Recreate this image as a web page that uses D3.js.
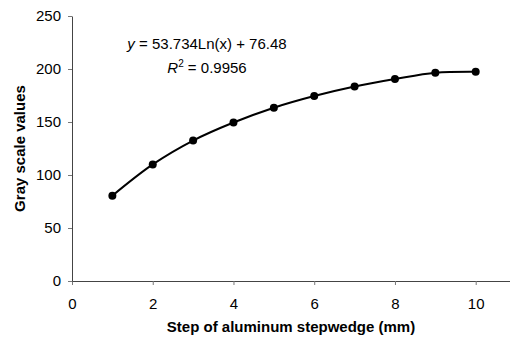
<!DOCTYPE html>
<html>
<head>
<meta charset="utf-8">
<script src="https://cdn.jsdelivr.net/npm/d3@7"></script>
<style>
  body { margin: 0; background: #fff; }
  svg { display: block; font-family: "Liberation Sans", Arial, sans-serif; }
</style>
</head>
<body>
<div id="chart"></div>
<script>
// data
const steps = [1, 2, 3, 4, 5, 6, 7, 8, 9, 10];
const grayValues = [80.5, 110, 132.5, 149.5, 163.5, 174.5, 183.5, 190.5, 196.5, 197.5];
const xTicks = [0, 2, 4, 6, 8, 10];
const yTicks = [0, 50, 100, 150, 200, 250];

const width = 510, height = 343;
const plotLeft = 72, plotTop = 16, plotBottom = 281;

const svg = d3.select("#chart").append("svg")
    .attr("width", width)
    .attr("height", height);

const x = d3.scaleLinear().domain([0, 11]).range([plotLeft, plotLeft + 11 * 40.37]);
const y = d3.scaleLinear().domain([0, 250]).range([plotBottom, plotTop]);

const xAxis = svg.append("g")
    .attr("transform", `translate(0,${plotBottom})`)
    .call(d3.axisBottom(x).tickValues(xTicks).tickSize(4).tickPadding(13).tickSizeOuter(0));

const yAxis = svg.append("g")
    .attr("transform", `translate(${plotLeft},0)`)
    .call(d3.axisLeft(y).tickValues(yTicks).tickSize(4).tickPadding(7).tickSizeOuter(0));

[xAxis, yAxis].forEach(a => {
    a.select(".domain").attr("stroke", "#444");
    a.selectAll(".tick line").attr("stroke", "#777");
    a.selectAll(".tick text")
        .attr("fill", "#000")
        .style("font-size", "15px")
        .style("font-family", "Liberation Sans, Arial, sans-serif");
});

const points = steps.map((s, i) => [s, grayValues[i]]);

const line = d3.line()
    .x(d => x(d[0]))
    .y(d => y(d[1]))
    .curve(d3.curveCatmullRom);

svg.append("path")
    .datum(points)
    .attr("d", line)
    .attr("fill", "none")
    .attr("stroke", "#000")
    .attr("stroke-width", 2);

svg.append("g").selectAll("circle")
    .data(points)
    .enter()
    .append("circle")
    .attr("cx", d => x(d[0]))
    .attr("cy", d => y(d[1]))
    .attr("r", 4)
    .attr("fill", "#000");

// equation text
const eq = svg.append("text")
    .attr("x", 207)
    .attr("y", 49)
    .attr("text-anchor", "middle")
    .style("font-size", "15px");
eq.append("tspan").attr("font-style", "italic").text("y");
eq.append("tspan").text(" = 53.734Ln(x) + 76.48");

const r2 = svg.append("text")
    .attr("x", 207)
    .attr("y", 73)
    .attr("text-anchor", "middle")
    .style("font-size", "15px");
r2.append("tspan").attr("font-style", "italic").text("R");
r2.append("tspan").attr("dy", -6).style("font-size", "10px").text("2");
r2.append("tspan").attr("dy", 6).text(" = 0.9956");

// axis titles
svg.append("text")
    .attr("x", 291)
    .attr("y", 332)
    .attr("text-anchor", "middle")
    .style("font-size", "15px")
    .style("font-weight", "bold")
    .text("Step of aluminum stepwedge (mm)");

svg.append("text")
    .attr("transform", `translate(25,${(plotTop + plotBottom) / 2}) rotate(-90)`)
    .attr("text-anchor", "middle")
    .style("font-size", "15px")
    .style("font-weight", "bold")
    .text("Gray scale values");
</script>
</body>
</html>
